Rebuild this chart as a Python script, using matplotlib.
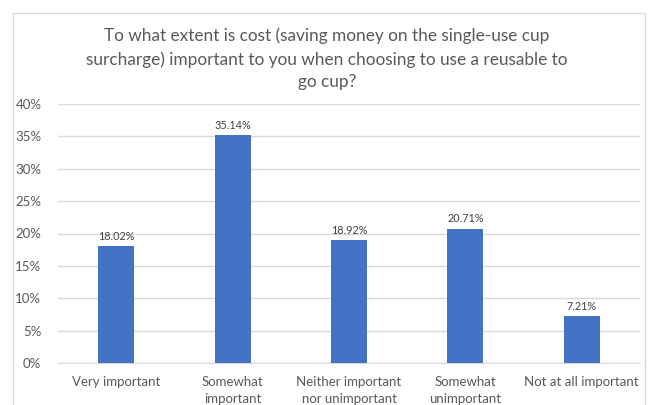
import matplotlib.pyplot as plt
from matplotlib.patches import Rectangle

categories = ['Very important', 'Somewhat\nimportant', 'Neither important\nnor unimportant',
              'Somewhat\nunimportant', 'Not at all important']
values = [18.02, 35.14, 18.92, 20.71, 7.21]
yticks = [0, 5, 10, 15, 20, 25, 30, 35, 40]

title = ('To what extent is cost (saving money on the single-use cup\n'
         'surcharge) important to you when choosing to use a reusable to\n'
         'go cup?')

plt.rcParams['font.family'] = ['Lato', 'DejaVu Sans']
grey = '#595959'

fig = plt.figure(figsize=(6.49, 4.05), dpi=100)
ax = fig.add_axes([58 / 649, 1 - 363 / 405, 582 / 649, 259 / 405])

# chart frame (bottom edge falls outside the image)
fig.patches.append(Rectangle((13 / 649, -0.1), 632 / 649, 1.1 - 13 / 405,
                             transform=fig.transFigure, fill=False,
                             edgecolor='#D9D9D9', lw=1))

x = range(len(categories))
bars = ax.bar(x, values, width=0.31, color='#4472C4', zorder=3)
for xi, v in zip(x, values):
    ax.text(xi, v + 0.7, f'{v:.2f}%', ha='center', va='bottom', fontsize=7.8, color='#404040')

ax.set_xlim(-0.5, len(categories) - 0.5)
ax.set_ylim(0, 40)
ax.set_yticks(yticks)
ax.set_yticklabels([f'{t}%' for t in yticks])
ax.set_xticks(list(x))
ax.set_xticklabels(categories, linespacing=1.55)
ax.yaxis.grid(True, color='#D9D9D9', lw=1, zorder=0)
for s in ['top', 'right', 'left']:
    ax.spines[s].set_visible(False)
ax.spines['bottom'].set_color('#D9D9D9')
ax.tick_params(axis='both', length=0, labelsize=9.5, colors=grey)
ax.tick_params(axis='y', pad=12)
ax.tick_params(axis='x', pad=9)

fig.text(0.504, 1 - 59 / 405, title, ha='center', va='center', fontsize=12.4,
         color=grey, linespacing=1.5)

plt.savefig('out.png', dpi=100)
